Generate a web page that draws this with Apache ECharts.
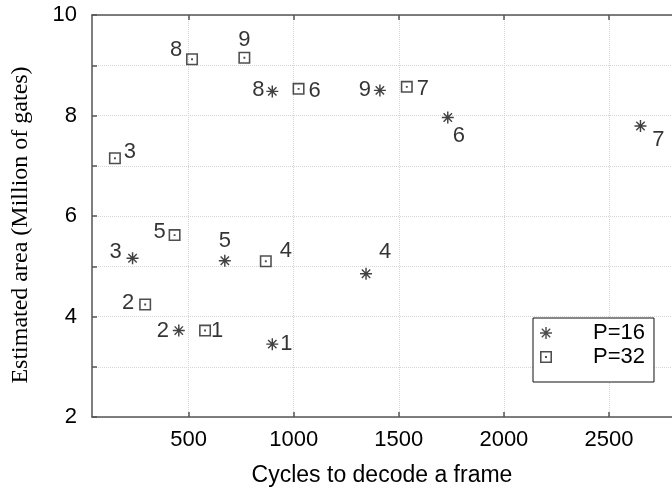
<!DOCTYPE html>
<html>
<head>
<meta charset="utf-8">
<script src="https://cdn.jsdelivr.net/npm/echarts@6/dist/echarts.min.js"></script>
<style>
html,body{margin:0;padding:0;background:#fff;}
#chart{width:672px;height:492px;}
</style>
</head>
<body>
<div id="chart"></div>
<script>
// ---- data ----
var pointLabels = ['1','2','3','4','5','6','7','8','9'];
var p16X = [898, 453, 233, 1344, 672, 1733, 2650, 898, 1410];
var p16Y = [3.45, 3.72, 5.16, 4.85, 5.11, 7.96, 7.79, 8.48, 8.50];
var p32X = [578, 293, 149, 867, 433, 1023, 1538, 516, 765];
var p32Y = [3.72, 4.24, 7.15, 5.10, 5.62, 8.53, 8.57, 9.12, 9.15];
var xTicks = [500, 1000, 1500, 2000, 2500];
var yTickLabels = [2, 4, 6, 8, 10];
var seriesNames = ['P=16', 'P=32'];

// ---- label offsets (styling, px) ----
var off16 = [[14,0],[-16,0],[-17,-6],[19,-22],[0,-20],[11,18],[18,14],[-14,-1],[-15,0]];
var off32 = [[12,0],[-17,-2],[15,-6],[20,-10],[-15,-3],[16,2],[16,2],[-16,-9],[0,-18]];

var starPath = 'path://M44,0 L56,0 L56,100 L44,100 Z M0,44 L100,44 L100,56 L0,56 Z M11,19 L19,11 L89,81 L81,89 Z M81,11 L89,19 L19,89 L11,81 Z';
var squarePath = 'path://M0,0 L100,0 L100,100 L0,100 Z M13,13 L13,87 L87,87 L87,13 Z M42,42 L58,42 L58,58 L42,58 Z';

function build(xs, ys, offs) {
  return xs.map(function (x, i) {
    return {
      value: [x, ys[i]],
      label: { offset: offs[i] },
      name: pointLabels[i]
    };
  });
}

var font = 'Liberation Sans, Arial, sans-serif';
var axisLineStyle = { color: '#555', width: 1.5 };
var plain = function (v) { return String(v); };

var chart = echarts.init(document.getElementById('chart'), null, { renderer: 'canvas' });
chart.setOption({
  animation: false,
  backgroundColor: '#fff',
  grid: { left: 92, top: 15, bottom: 73, right: -9, containLabel: false },
  legend: {
    orient: 'vertical',
    left: 533, top: 318,
    data: [
      { name: seriesNames[0], icon: starPath },
      { name: seriesNames[1], icon: squarePath }
    ],
    itemWidth: 14, itemHeight: 12, itemGap: 0,
    symbolKeepAspect: true,
    backgroundColor: '#fff',
    borderColor: '#111', borderWidth: 1,
    padding: [3, 9, 13, 7],
    textStyle: { fontFamily: font, fontSize: 22, color: '#000', lineHeight: 24, padding: [0, 0, 0, 35] },
    itemStyle: { color: '#222' }
  },
  xAxis: [{
    type: 'value', min: 40, max: 2800,
    name: 'Cycles to decode a frame',
    nameLocation: 'middle', nameGap: 47,
    nameTextStyle: { fontFamily: font, fontSize: 23, color: '#000' },
    axisLine: { show: true, onZero: false, lineStyle: axisLineStyle },
    axisTick: { show: true, inside: true, length: 5, customValues: xTicks, lineStyle: axisLineStyle },
    axisLabel: { customValues: xTicks, formatter: plain, margin: 12, fontFamily: font, fontSize: 22, color: '#000' },
    splitLine: { show: true, lineStyle: { color: '#d6d6d6', type: 'dotted', width: 1 } }
  }, {
    type: 'value', min: 40, max: 2800, position: 'top',
    axisLine: { show: true, onZero: false, lineStyle: axisLineStyle },
    axisTick: { show: true, inside: true, length: 5, customValues: xTicks, lineStyle: axisLineStyle },
    axisLabel: { show: false },
    splitLine: { show: false }
  }],
  yAxis: {
    type: 'value', min: 2, max: 10, interval: 1,
    name: 'Estimated area (Million of gates)',
    nameLocation: 'middle', nameGap: 59,
    nameTextStyle: { fontFamily: 'Liberation Serif, Times New Roman, serif', fontSize: 24, color: '#000', padding: [0, 18, 0, 0] },
    axisLine: { show: true, onZero: false, lineStyle: axisLineStyle },
    axisTick: { show: true, inside: true, length: 5, lineStyle: axisLineStyle },
    axisLabel: { customValues: yTickLabels, formatter: plain, margin: 15, fontFamily: font, fontSize: 22, color: '#000' },
    splitLine: { show: true, lineStyle: { color: '#d6d6d6', type: 'dotted', width: 1 } }
  },
  series: [{
    name: seriesNames[0], type: 'scatter', xAxisIndex: 0,
    symbol: starPath, symbolSize: 12,
    itemStyle: { color: '#111' },
    label: { show: true, position: 'inside', formatter: '{b}', fontFamily: font, fontSize: 22, color: '#000' },
    data: build(p16X, p16Y, off16)
  }, {
    name: seriesNames[1], type: 'scatter', xAxisIndex: 0,
    symbol: squarePath, symbolSize: 12,
    itemStyle: { color: '#222' },
    label: { show: true, position: 'inside', formatter: '{b}', fontFamily: font, fontSize: 22, color: '#000' },
    data: build(p32X, p32Y, off32)
  }]
});
</script>
</body>
</html>
